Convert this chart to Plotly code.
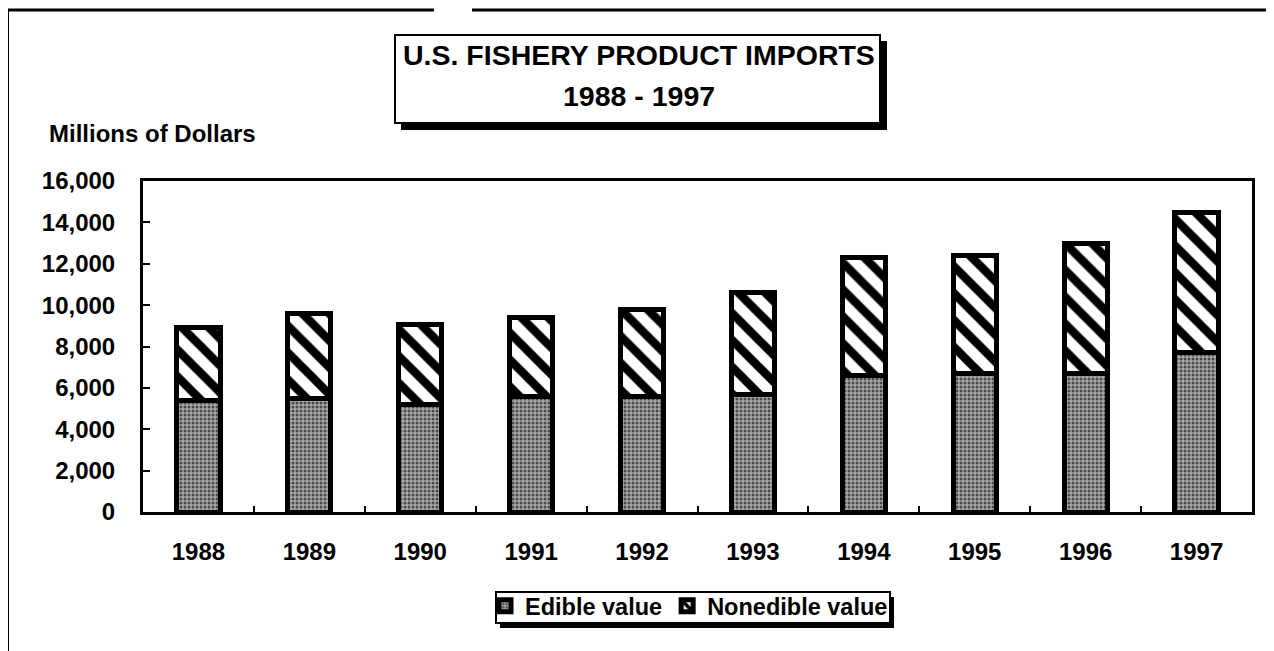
import plotly.graph_objects as go

years = ["1988", "1989", "1990", "1991", "1992", "1993", "1994", "1995", "1996", "1997"]
edible = [5400, 5500, 5200, 5600, 5600, 5700, 6600, 6700, 6700, 7700]
nonedible = [3500, 4100, 3850, 3800, 4200, 4900, 5700, 5700, 6300, 6800]
y_ticks = [0, 2000, 4000, 6000, 8000, 10000, 12000, 14000, 16000]

OFF = 8  # page body margin in the browser
W, H = 1274 - OFF, 651 - OFF
L, R, T, B = 143, 1252, 181, 512  # target screen pixels of the plot area

def px(x):
    return (x - L) / (R - L)

def py(y):
    return (B - y) / (B - T)

FONT = "Liberation Sans, Arial, Helvetica, sans-serif"

fig = go.Figure()
fig.add_trace(go.Bar(
    x=years, y=edible, name="Edible value", width=0.39,
    marker=dict(color="#9a9a9a",
                pattern=dict(shape=".", fgcolor="#4a4a4a", bgcolor="#a8a8a8", size=4,
                             solidity=0.45, fgopacity=1, fillmode="replace"),
                line=dict(color="black", width=5)),
))
fig.add_trace(go.Bar(
    x=years, y=nonedible, name="Nonedible value", width=0.39,
    marker=dict(color="white",
                pattern=dict(shape="\\", fgcolor="#000000", bgcolor="#ffffff", size=19,
                             solidity=0.45, fgopacity=1, fillmode="replace"),
                line=dict(color="black", width=5)),
))

shapes = []
# title box shadow + box
shapes.append(dict(type="rect", xref="paper", yref="paper",
                   x0=px(401), x1=px(887), y0=py(130), y1=py(41),
                   fillcolor="black", line=dict(width=0), layer="above"))
shapes.append(dict(type="rect", xref="paper", yref="paper",
                   x0=px(395), x1=px(880), y0=py(123), y1=py(35),
                   fillcolor="white", line=dict(color="black", width=2), layer="above"))
# outer page frame
shapes.append(dict(type="line", xref="paper", yref="paper",
                   x0=px(3), x1=px(434), y0=py(10), y1=py(10), line=dict(color="black", width=3)))
shapes.append(dict(type="line", xref="paper", yref="paper",
                   x0=px(472), x1=px(1280), y0=py(10), y1=py(10), line=dict(color="black", width=3)))
shapes.append(dict(type="line", xref="paper", yref="paper",
                   x0=px(8), x1=px(8), y0=py(10), y1=py(660), line=dict(color="black", width=2)))
# legend box shadow + box
shapes.append(dict(type="rect", xref="paper", yref="paper",
                   x0=px(500), x1=px(894), y0=py(628), y1=py(597),
                   fillcolor="black", line=dict(width=0), layer="above"))
shapes.append(dict(type="rect", xref="paper", yref="paper",
                   x0=px(496), x1=px(890), y0=py(623), y1=py(592),
                   fillcolor="white", line=dict(color="black", width=2), layer="above"))

annotations = [
    dict(text="U.S. FISHERY PRODUCT IMPORTS", xref="paper", yref="paper",
         x=px(639), y=py(55), xanchor="center", yanchor="middle", showarrow=False,
         font=dict(family=FONT, size=28.5, color="black", weight="bold")),
    dict(text="1988 - 1997", xref="paper", yref="paper",
         x=px(639), y=py(96), xanchor="center", yanchor="middle", showarrow=False,
         font=dict(family=FONT, size=28.5, color="black", weight="bold")),
    dict(text="Millions of Dollars", xref="paper", yref="paper",
         x=px(47), y=py(134), xanchor="left", yanchor="middle", showarrow=False,
         font=dict(family=FONT, size=24, color="black", weight="bold")),
]

fig.update_layout(
    width=W, height=H,
    margin=dict(l=L - OFF, r=W - (R - OFF), t=T - OFF, b=H - (B - OFF), pad=0),
    paper_bgcolor="white", plot_bgcolor="white",
    barmode="stack",
    showlegend=True,
    legend=dict(orientation="h", x=px(485), xanchor="left", y=py(584), yanchor="top",
                bgcolor="rgba(0,0,0,0)", borderwidth=0,
                font=dict(family=FONT, size=23.5, color="black", weight="bold"),
                itemwidth=30, traceorder="normal"),
    shapes=shapes, annotations=annotations,
    font=dict(family=FONT, color="black"),
)
fig.update_xaxes(
    type="category", range=[-0.5, 9.5],
    showline=True, linecolor="black", linewidth=3, mirror=True,
    ticks="inside", tickson="boundaries", ticklen=6, tickwidth=2, tickcolor="black",
    tickfont=dict(family=FONT, size=24, color="black", weight="bold"),
    ticklabelstandoff=16, showgrid=False, zeroline=False,
)
fig.update_yaxes(
    range=[0, 16000], tickvals=y_ticks, tickformat=",d",
    showline=True, linecolor="black", linewidth=3, mirror=True,
    ticks="inside", ticklen=7, tickwidth=2, tickcolor="black",
    tickfont=dict(family=FONT, size=24, color="black", weight="bold"),
    ticklabelstandoff=20, showgrid=False, zeroline=False,
)

fig.write_html("out.html")
